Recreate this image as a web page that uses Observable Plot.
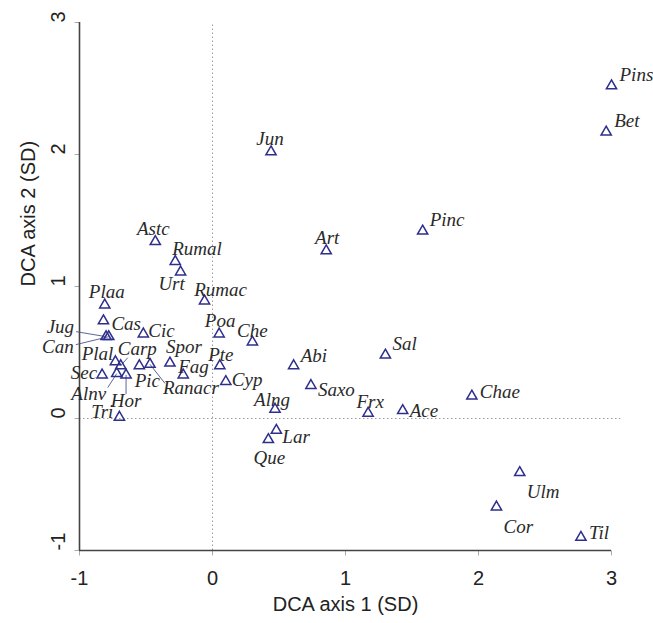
<!DOCTYPE html>
<html>
<head>
<meta charset="utf-8">
<script src="https://cdn.jsdelivr.net/npm/d3@7"></script>
<script src="https://cdn.jsdelivr.net/npm/@observablehq/plot@0.6"></script>
<style>
  html, body { margin: 0; padding: 0; background: #fff; }
  #chart svg { display: block; }
</style>
</head>
<body>
<div id="chart"></div>
<script>
// ---- data ----
const taxa = ["Astc","Rumal","Urt","Rumac","Plaa","Cas","Jug","Can","Cic","Poa",
  "Che","Plal","Carp","Pic","Ranacr","Spor","Fag","Pte","Cyp","Sec",
  "Alnv","Hor","Tri","Alng","Abi","Saxo","Frx","Ace","Sal","Lar",
  "Que","Pins","Bet","Pinc","Chae","Ulm","Cor","Til","Jun","Art"];
const dca1 = [-0.43,-0.28,-0.24,-0.06,-0.81,-0.82,-0.80,-0.78,-0.52,0.05,
  0.30,-0.73,-0.69,-0.55,-0.47,-0.32,-0.22,0.055,0.10,-0.83,
  -0.72,-0.65,-0.70,0.47,0.61,0.74,1.17,1.43,1.30,0.48,
  0.42,3.00,2.96,1.58,1.95,2.31,2.135,2.77,0.44,0.855];
const dca2 = [1.34,1.19,1.11,0.89,0.86,0.74,0.62,0.62,0.64,0.64,
  0.58,0.43,0.40,0.40,0.41,0.42,0.33,0.40,0.28,0.33,
  0.34,0.33,0.01,0.07,0.40,0.25,0.04,0.06,0.48,-0.09,
  -0.16,2.52,2.17,1.42,0.17,-0.41,-0.67,-0.90,2.02,1.27];
const xTicks = [-1, 0, 1, 2, 3];
const yTicks = [-1, 0, 1, 2, 3];
const xTitle = "DCA axis 1 (SD)";
const yTitle = "DCA axis 2 (SD)";

// ---- layout (label placement in pixels relative to the point) ----
const W = 653, H = 623, mL = 79, mR = 42, mT = 22, mB = 73;
const xDom = [-1, 3], yDom = [-1, 3];
const kx = (xDom[1] - xDom[0]) / (W - mL - mR);
const ky = (yDom[1] - yDom[0]) / (H - mT - mB);
const placement = {
  Astc:["middle",-2,-13], Rumal:["start",-3,-13], Urt:["middle",-9,12], Rumac:["middle",16,-11],
  Plaa:["middle",2,-13], Cas:["start",8,3], Jug:["end",-32,-10], Can:["end",-35,10],
  Cic:["start",5,-3], Poa:["middle",1,-13], Che:["middle",0,-11], Plal:["end",-2,-8],
  Carp:["start",-3,-17], Pic:["middle",8,15], Ranacr:["start",13,24], Spor:["start",-4,-16],
  Fag:["start",-5,-8], Pte:["middle",1,-11], Cyp:["start",6,-2], Sec:["end",-5,-2],
  Alnv:["middle",-28,20], Hor:["middle",0,26], Tri:["end",-6,-5], Alng:["middle",-3,-9],
  Abi:["start",7,-10], Saxo:["start",7,4], Frx:["middle",2,-11], Ace:["start",7,0],
  Sal:["start",7,-11], Lar:["start",6,7], Que:["middle",1,18], Pins:["start",8,-11],
  Bet:["start",8,-11], Pinc:["start",7,-11], Chae:["start",8,-4], Ulm:["start",7,19],
  Cor:["start",7,20], Til:["start",8,-4], Jun:["middle",-1,-13], Art:["middle",1,-13]
};
// leader lines: end offset in pixels from the point
const leaders = { Jug:[-30,-5], Can:[-33,8], Carp:[7,-8], Ranacr:[15,19], Alnv:[-9,14], Hor:[0,19] };

const pts = taxa.map((n, i) => ({name: n, x: dca1[i], y: dca2[i]}));
const labels = pts.map(p => {
  const [a, dx, dy] = placement[p.name];
  return {...p, a, lx: p.x + dx * kx, ly: p.y - dy * ky};
});
const links = pts.filter(p => leaders[p.name]).map(p => {
  const [ox, oy] = leaders[p.name];
  return {...p, x2: p.x + ox * kx, y2: p.y - oy * ky};
});

const labelStyle = {fontFamily: "'Liberation Serif', 'Times New Roman', serif", fontStyle: "italic", fontSize: 19, fill: "#2a2a2a"};
const axisFont = "'Liberation Sans', Arial, sans-serif";

const chart = Plot.plot({
  width: W, height: H,
  marginLeft: mL, marginRight: mR, marginTop: mT, marginBottom: mB,
  x: {domain: xDom, axis: null},
  y: {domain: yDom, axis: null},
  style: {background: "#fff"},
  marks: [
    // dotted reference lines
    Plot.ruleX([0], {x: d => d, y1: -1, y2: 3, stroke: "#9a9a9a", strokeWidth: 1, strokeDasharray: "1.5,2.5"}),
    Plot.ruleY([0], {y: d => d, x1: -1, x2: 3.07, stroke: "#9a9a9a", strokeWidth: 1, strokeDasharray: "1.5,2.5"}),
    // ticks
    Plot.link(xTicks, {x1: d => d, x2: d => d, y1: -1, y2: -1 - 5 * ky, stroke: "#aaa"}),
    Plot.link(yTicks, {y1: d => d, y2: d => d, x1: -1, x2: -1 - 5 * kx, stroke: "#aaa"}),
    // axis lines
    Plot.ruleY([-1], {y: d => d, x1: -1, x2: 3, stroke: "#444", strokeWidth: 1.6}),
    Plot.ruleX([-1], {x: d => d, y1: -1, y2: 3, stroke: "#444", strokeWidth: 1.6}),
    // tick labels
    Plot.text(xTicks, {x: d => d, frameAnchor: "bottom", dy: 34, text: d => String(d), fontFamily: axisFont, fontSize: 20, fill: "#222"}),
    Plot.text(yTicks, {y: d => d, frameAnchor: "left", dx: -21, rotate: -90, text: d => String(d), fontFamily: axisFont, fontSize: 20, fill: "#222"}),
    // axis titles
    Plot.text([xTitle], {frameAnchor: "bottom", dy: 60, text: d => d, fontFamily: axisFont, fontSize: 20, fill: "#222"}),
    Plot.text([yTitle], {frameAnchor: "left", dx: -51, rotate: -90, text: d => d, fontFamily: axisFont, fontSize: 20, fill: "#222"}),
    // leader lines
    Plot.link(links, {x1: "x", y1: "y", x2: "x2", y2: "y2", stroke: "#4a5590", strokeWidth: 0.9}),
    // points
    Plot.dot(pts, {x: "x", y: "y", symbol: "triangle", r: 3.8, stroke: "#2e2e8c", strokeWidth: 1.5, fill: "none"}),
    // labels
    Plot.text(labels.filter(d => d.a === "start"), {x: "lx", y: "ly", text: "name", textAnchor: "start", ...labelStyle}),
    Plot.text(labels.filter(d => d.a === "middle"), {x: "lx", y: "ly", text: "name", textAnchor: "middle", ...labelStyle}),
    Plot.text(labels.filter(d => d.a === "end"), {x: "lx", y: "ly", text: "name", textAnchor: "end", ...labelStyle})
  ]
});
document.getElementById("chart").appendChild(chart);
</script>
</body>
</html>
